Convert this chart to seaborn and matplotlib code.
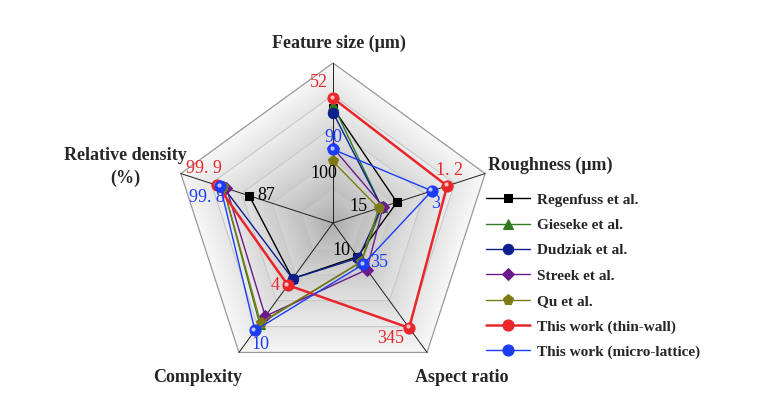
import numpy as np
import matplotlib
matplotlib.use("Agg")
import matplotlib.pyplot as plt
from matplotlib.patches import Polygon
import matplotlib.transforms as mtransforms
import seaborn as sns

# axes of the radar, clockwise from the top
axis_labels = ["Feature size (\u03bcm)", "Roughness (\u03bcm)", "Aspect ratio",
               "Complexity", "Relative density\n(%)"]

# normalised radial scores (0 = centre, 1 = outer ring)
series_names = ["Regenfuss et al.", "Gieseke et al.", "Dudziak et al.", "Streek et al.",
                "Qu et al.", "This work (thin-wall)", "This work (micro-lattice)"]
regenfuss = [0.72, 0.42, 0.26, 0.43, 0.55]
gieseke = [0.74, 0.32, 0.30, 0.78, 0.72]
dudziak = [0.69, 0.32, 0.27, 0.43, 0.72]
streek = [0.47, 0.33, 0.36, 0.72, 0.70]
qu = [0.385, 0.30, 0.30, 0.77, 0.72]
thin_wall = [0.78, 0.75, 0.81, 0.48, 0.76]
micro_lattice = [0.46, 0.65, 0.32, 0.83, 0.74]

# value labels: (series index, axis index, text)
value_labels = [(5, 0, "52"), (6, 0, "90"), (4, 0, "100"),
                (5, 1, "1. 2"), (6, 1, "3"), (4, 1, "15"),
                (0, 2, "10"), (6, 2, "35"), (5, 2, "345"),
                (5, 3, "4"), (6, 3, "10"),
                (5, 4, "99. 9"), (6, 4, "99. 8"), (0, 4, "87")]

colors = ["#000000", "#2f7a1f", "#0d1f8c", "#6a1a8a", "#7d7a16", "#e8262b", "#1d3cf5"]
markers = ["s", "^", "o", "D", "p", "o", "o"]
msizes = [6, 7, 7.5, 6, 8, 8, 8]
lwidths = [1.0, 1.0, 1.0, 1.0, 1.0, 1.8, 1.0]
label_colors = {0: "#000000", 4: "#000000", 5: "#e8262b", 6: "#1d3cf5"}

# label offsets in pixels, same order as value_labels
label_offsets = [(-14, 16), (0, 12), (-9, -12),
                 (2, 15), (4, -13), (-20, 2),
                 (-16, 6), (16, 2), (-19, -11),
                 (-13, 0), (5, -14),
                 (-13, 17), (-14, -11), (17, 0)]

sns.set_theme(style="white")
plt.rcParams["font.family"] = ["Liberation Serif", "DejaVu Serif"]

all_series = [regenfuss, gieseke, dudziak, streek, qu, thin_wall, micro_lattice]
n_axes = len(axis_labels)
angles = np.deg2rad(90 - 72 * np.arange(n_axes))

fig = plt.figure(figsize=(7.72, 3.95), dpi=100)
ax = fig.add_axes([0, 0, 1, 1])
R = 160.0
cx, cy = 333.0, 223.0
ax.set_xlim(-cx / R, (772 - cx) / R)
ax.set_ylim(-(395 - cy) / R, cy / R)
ax.set_axis_off()

vx, vy = np.cos(angles), np.sin(angles)

# shaded pentagon background
gx, gy = np.meshgrid(np.linspace(-1.05, 1.05, 500), np.linspace(-1.05, 1.05, 500))
normals = angles - np.deg2rad(36)
pr = np.max([gx * np.cos(a) + gy * np.sin(a) for a in normals], axis=0) / np.cos(np.deg2rad(36))
band = (pr * 5) % 1.0
shade = 0.66 + 0.28 * np.clip(pr, 0, 1) ** 0.75 + 0.03 * band
img = ax.imshow(shade, extent=(-1.05, 1.05, -1.05, 1.05), origin="lower",
                cmap="gray", vmin=0, vmax=1, zorder=0, interpolation="bilinear")
outer = Polygon(np.column_stack([vx, vy]), closed=True, transform=ax.transData)
img.set_clip_path(outer)

for lev in [0.2, 0.4, 0.6, 0.8]:
    ax.add_patch(Polygon(np.column_stack([vx * lev, vy * lev]), closed=True, fill=False,
                         edgecolor="#c8c8c8", lw=0.8, zorder=1))
ax.add_patch(Polygon(np.column_stack([vx, vy]), closed=True, fill=False,
                     edgecolor="#999999", lw=0.9, zorder=1))
for x, y in zip(vx, vy):
    ax.plot([0, x], [0, y], color="#202020", lw=0.7, zorder=2)

# series
for i, vals in enumerate(all_series):
    r = np.array(vals + vals[:1])
    th = np.concatenate([angles, angles[:1]])
    sns.lineplot(x=r * np.cos(th), y=r * np.sin(th), sort=False, ax=ax, color=colors[i],
                 lw=lwidths[i], marker=markers[i], markersize=msizes[i],
                 markeredgecolor=colors[i], label=series_names[i], zorder=3 + i)
    if i >= 5:
        # glossy highlight on the ball markers
        hl = mtransforms.offset_copy(ax.transData, fig=fig, x=-1.5, y=1.5, units="dots")
        ax.plot(r[:-1] * np.cos(th[:-1]), r[:-1] * np.sin(th[:-1]), ls="none", marker="o",
                ms=3, color="white", alpha=0.7, mec="none", transform=hl, zorder=3 + i)

# value labels
for (si, ai, txt), (ox, oy) in zip(value_labels, label_offsets):
    rv = all_series[si][ai]
    ax.annotate(txt, xy=(rv * vx[ai], rv * vy[ai]), xytext=(ox, oy), textcoords="offset pixels",
                ha="center", va="center", fontsize=13, color=label_colors[si], zorder=20)

# axis titles
title_pos = [((339 - cx) / R, (cy - 43) / R, "center"),
             ((488 - cx) / R, (cy - 165) / R, "left"),
             ((462 - cx) / R, (cy - 378) / R, "center"),
             ((198 - cx) / R, (cy - 378) / R, "center"),
             ((125 - cx) / R, (cy - 167) / R, "center")]
for (tx, ty, ha), lab in zip(title_pos, axis_labels):
    ax.text(tx, ty, lab, ha=ha, va="center", fontsize=13, fontweight="bold",
            linespacing=1.45, zorder=20)

leg = ax.legend(loc="upper left", bbox_to_anchor=(480 / 772, 1 - 187 / 395), frameon=False,
                prop={"family": ["Liberation Serif"], "weight": "bold", "size": 11},
                handlelength=2.9, labelspacing=0.76, handletextpad=0.4, borderaxespad=0)

fig.savefig("out.png", dpi=100)
